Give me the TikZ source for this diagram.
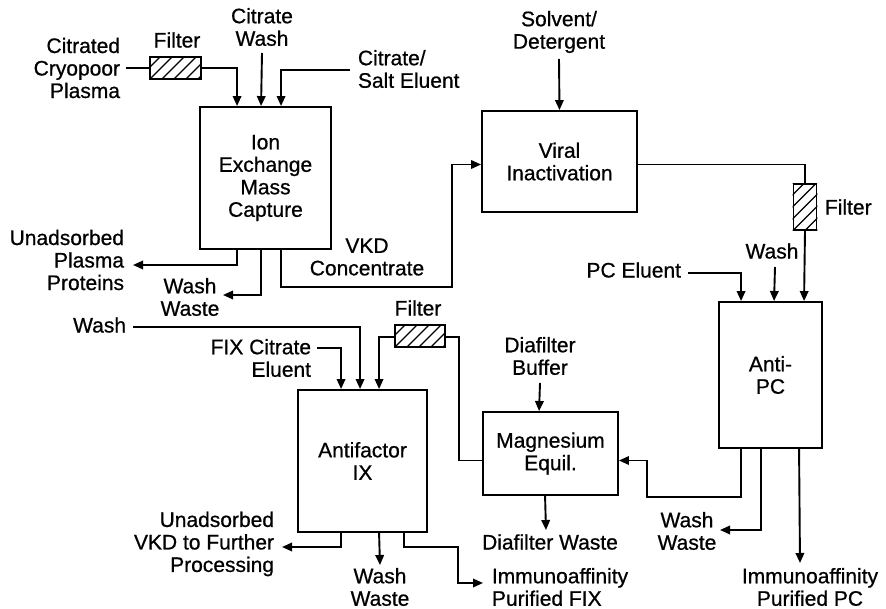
\documentclass[tikz,border=0pt]{standalone}
\usepackage{fontspec}
\setmainfont{Liberation Sans}[FakeBold=0.7]
\usetikzlibrary{arrows.meta,calc}
\begin{document}
\begin{tikzpicture}[x=1pt,y=-1pt,
  line width=1.9pt,
  >={Triangle[length=10pt,width=8.5pt]},
  every node/.style={font=\fontsize{21}{22.5}\selectfont},
  proc/.style={draw,line width=1.9pt,align=center,inner sep=0pt},
  lbl/.style={align=center,inner sep=0pt},
  filt/.style={draw,line width=1.9pt,inner sep=0pt}]
\useasboundingbox (0,0) rectangle (886,609);

% process boxes
\node[proc,minimum width=131pt,minimum height=142pt] (ion) at (265.5,178) {Ion\\Exchange\\Mass\\Capture};
\node[proc,minimum width=155pt,minimum height=101pt] (viral) at (559.5,161.5) {Viral\\Inactivation};
\node[proc,minimum width=103pt,minimum height=146pt] (pc) at (770.5,375) {Anti-\\PC};
\node[proc,minimum width=135pt,minimum height=83pt] (mag) at (550.5,453.5) {Magnesium\\Equil.};
\node[proc,minimum width=129pt,minimum height=142pt] (fix) at (362.5,461) {Antifactor\\IX};

% filters
\node[filt,minimum width=51pt,minimum height=22pt] (f1) at (175.5,68) {};
\node[filt,minimum width=23pt,minimum height=46pt] (f2) at (805,207) {};
\node[filt,minimum width=50pt,minimum height=22pt] (f3) at (420,336) {};
\foreach \f in {f1,f2,f3}{
  \begin{scope}
    \clip (\f.south west) rectangle (\f.north east);
    \foreach \i in {-60,-48,...,60}
      \draw[line width=1.1pt] ($(\f.south west)+(\i,0)$) -- ++(60,-60);
  \end{scope}
}

% labels
\node[lbl] (filt1) at (177,40) {Filter};
\node[lbl,align=right,anchor=east] (plasma) at (121,68) {Citrated\\Cryopoor\\Plasma};
\node[lbl] (cwash) at (262,27) {Citrate\\Wash};
\node[lbl,align=left,anchor=west] (salt) at (357,69) {Citrate/\\Salt Eluent};
\node[lbl,align=right,anchor=east] (unads) at (125,260) {Unadsorbed\\Plasma\\Proteins};
\node[lbl] (ww1) at (190,297) {Wash\\Waste};
\node[lbl] (vkd) at (367,257) {VKD\\Concentrate};
\node[lbl] (solv) at (559,32) {Solvent/\\Detergent};
\node[lbl,anchor=west] (filt2) at (824,207) {Filter};
\node[lbl] (wash2) at (772,251) {Wash};
\node[lbl,anchor=east] (pcel) at (682,270) {PC Eluent};
\node[lbl,anchor=east] (wash3) at (127,325) {Wash};
\node[lbl,align=right,anchor=east] (fixcit) at (312,358) {FIX Citrate\\Eluent};
\node[lbl] (filt3) at (418,308) {Filter};
\node[lbl] (dbuf) at (540,356) {Diafilter\\Buffer};
\node[lbl,align=right,anchor=east] (unvkd) at (275,544) {Unadsorbed\\VKD to Further\\Processing};
\node[lbl] (ww2) at (380,587) {Wash\\Waste};
\node[lbl] (dwaste) at (550,542) {Diafilter Waste};
\node[lbl,align=left,anchor=west] (ipfix) at (491,587) {Immunoaffinity\\Purified FIX};
\node[lbl] (ww3) at (687,531) {Wash\\Waste};
\node[lbl] (ippc) at (810,587) {Immunoaffinity\\Purified PC};

% free ends
\coordinate (cwS) at (262,53);
\coordinate (saltS) at (350,70);
\coordinate (unadsE) at (133,265);
\coordinate (ww1E) at (223,295);
\coordinate (vkdC) at (452,287);
\coordinate (solvS) at (559,59);
\coordinate (wash2S) at (775,267);
\coordinate (pcelS) at (688,273);
\coordinate (ww3E) at (720,530);
\coordinate (ippcE) at (800,563);
\coordinate (dbufS) at (540,383);
\coordinate (dwE) at (546,530);
\coordinate (wash3S) at (133,327);
\coordinate (fixcitS) at (317,348);
\coordinate (unvkdE) at (282,547);
\coordinate (ww2E) at (380,565);
\coordinate (ipfixE) at (483,583);

% ion exchange inputs
\draw (plasma.east) ++(5,0) -- (f1.west);
\draw[->] (f1.east) -| ($(ion.north west)+(38,0)$);
\draw[->] (cwS) -- ($(ion.north west)+(62,0)$);
\draw[->] (saltS) -| ($(ion.north west)+(82,0)$);
% ion exchange outputs
\draw[->] ($(ion.south west)+(38,0)$) |- (unadsE);
\draw[->] ($(ion.south west)+(62,0)$) |- (ww1E);
\draw[->] ($(ion.south west)+(82,0)$) |- (vkdC) |- ($(viral.west)+(0,3)$);
% viral
\draw[->] (solvS) -- (viral.north);
\draw ($(viral.east)+(0,3)$) -| (f2.north);
\draw[->] (f2.south) -- ($(pc.north west)+(86,0)$);
% anti-PC inputs
\draw[->] (wash2S) -- ($(pc.north west)+(56,0)$);
\draw[->] (pcelS) -| ($(pc.north west)+(23,0)$);
% anti-PC outputs
\draw[->] ($(pc.south west)+(23,0)$) |- (647,497) |- ($(mag.east)+(0,7)$);
\draw[->] ($(pc.south west)+(43,0)$) |- (ww3E);
\draw[->] ($(pc.south west)+(81,0)$) -- (ippcE);
% magnesium
\draw[->] (dbufS) -- ($(mag.north west)+(57,0)$);
\draw[->] ($(mag.south west)+(63,0)$) -- (dwE);
\draw ($(mag.west)+(0,7)$) -| ($(f3.east)+(13,1)$) -- ($(f3.east)+(0,1)$);
% antifactor inputs
\draw[->] ($(f3.west)+(0,1)$) -| ($(fix.north west)+(82,0)$);
\draw[->] (wash3S) -| ($(fix.north west)+(63,0)$);
\draw[->] (fixcitS) -| ($(fix.north west)+(44,0)$);
% antifactor outputs
\draw[->] ($(fix.south west)+(44,0)$) |- (unvkdE);
\draw[->] ($(fix.south west)+(82,0)$) -- (ww2E);
\draw[->] ($(fix.south west)+(107,0)$) |- (458,547) |- (ipfixE);
\end{tikzpicture}
\end{document}
